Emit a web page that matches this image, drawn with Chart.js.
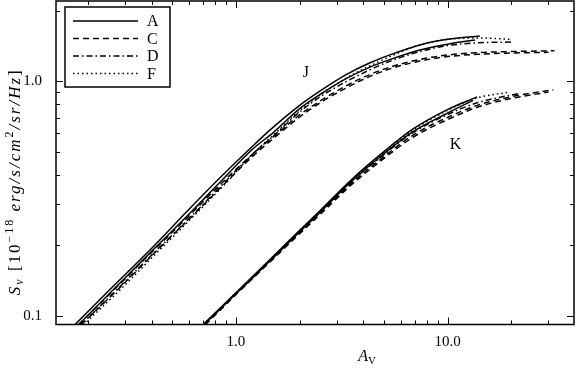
<!DOCTYPE html>
<html lang="en">
<head>
<meta charset="UTF-8">
<title>S_nu versus A_V</title>
<script src="https://cdn.jsdelivr.net/npm/chart.js"></script>
<style>
  html, body { margin: 0; padding: 0; background: white; }
  #wrap { width: 576px; height: 368px; }
</style>
</head>
<body>
<div id="wrap"><canvas id="chart"></canvas></div>
<script>
// J band curves (A_V, S_nu)
const jA1_av = [0.173, 0.25, 0.392, 0.6, 0.84, 1.2, 1.45, 2.0, 2.5, 3.3, 4.3, 5.5, 7.4, 10, 14.2];
const jA1_s  = [0.0917, 0.128, 0.191, 0.285, 0.388, 0.53, 0.621, 0.79, 0.91, 1.065, 1.20, 1.31, 1.43, 1.51, 1.56];
const jA2_av = [0.18, 0.26, 0.4, 0.62, 0.86, 1.2, 1.5, 2.0, 2.5, 3.3, 4.3, 5.5, 7.4, 10, 13.5];
const jA2_s  = [0.0917, 0.128, 0.189, 0.28, 0.38, 0.515, 0.605, 0.765, 0.88, 1.025, 1.15, 1.25, 1.36, 1.44, 1.50];
const jC1_av = [0.18, 0.26, 0.4, 0.62, 0.86, 1.2, 1.5, 2.0, 2.5, 3.3, 4.3, 5.35, 7.4, 10, 14, 20, 32];
const jC1_s  = [0.0917, 0.127, 0.187, 0.275, 0.37, 0.49, 0.58, 0.72, 0.825, 0.955, 1.07, 1.15, 1.24, 1.295, 1.325, 1.34, 1.35];
const jC2_av = [0.185, 0.27, 0.41, 0.63, 0.88, 1.2, 1.5, 2.0, 2.5, 3.3, 4.3, 5.5, 7.4, 10, 14, 20, 30];
const jC2_s  = [0.0917, 0.127, 0.185, 0.27, 0.365, 0.48, 0.57, 0.705, 0.81, 0.935, 1.05, 1.14, 1.22, 1.275, 1.305, 1.32, 1.33];
const jD_av  = [0.185, 0.27, 0.41, 0.63, 0.88, 1.2, 1.5, 2.0, 2.5, 3.3, 4.3, 5.5, 7.4, 10, 14, 20];
const jD_s   = [0.0917, 0.128, 0.186, 0.272, 0.37, 0.49, 0.585, 0.74, 0.86, 0.995, 1.12, 1.23, 1.34, 1.42, 1.46, 1.47];
const jF_av  = [0.19, 0.28, 0.42, 0.64, 0.9, 1.2, 1.5, 2.0, 2.5, 3.3, 4.3, 5.5, 7.4, 10, 14, 20];
const jF_s   = [0.0917, 0.128, 0.185, 0.27, 0.37, 0.49, 0.59, 0.75, 0.875, 1.03, 1.165, 1.29, 1.43, 1.51, 1.53, 1.51];

// K band curves (A_V, S_nu)
const kA1_av = [0.698, 1.165, 1.5, 2.006, 2.5, 3.46, 4.79, 6.87, 9.93, 13.8];
const kA1_s  = [0.0917, 0.1438, 0.1797, 0.2326, 0.2815, 0.3764, 0.486, 0.627, 0.756, 0.859];
const kA2_av = [0.705, 1.165, 1.5, 2.006, 2.5, 3.46, 4.79, 6.87, 9.93, 13.2];
const kA2_s  = [0.0917, 0.142, 0.177, 0.229, 0.277, 0.37, 0.476, 0.61, 0.73, 0.83];
const kC1_av = [0.71, 1.165, 1.5, 2.006, 2.5, 3.46, 4.79, 6.87, 9.93, 13.8, 20, 31.6];
const kC1_s  = [0.0917, 0.142, 0.177, 0.228, 0.275, 0.364, 0.463, 0.59, 0.70, 0.79, 0.86, 0.92];
const kC2_av = [0.715, 1.165, 1.5, 2.006, 2.5, 3.46, 4.79, 6.87, 9.93, 13.8, 20, 30];
const kC2_s  = [0.0917, 0.141, 0.175, 0.225, 0.271, 0.358, 0.455, 0.578, 0.685, 0.775, 0.845, 0.90];
const kD_av  = [0.70, 1.165, 1.5, 2.006, 2.5, 3.46, 4.79, 6.87, 9.93, 13.8, 22];
const kD_s   = [0.0917, 0.143, 0.178, 0.23, 0.278, 0.37, 0.472, 0.605, 0.72, 0.81, 0.89];
const kF_av  = [0.705, 1.165, 1.5, 2.006, 2.5, 3.46, 4.79, 6.87, 9.93, 13.8, 19.7];
const kF_s   = [0.0917, 0.1425, 0.178, 0.23, 0.279, 0.372, 0.478, 0.62, 0.75, 0.85, 0.90];

const legendKeys = ['A', 'C', 'D', 'F'];
const xMajor = [1, 10];
const xMinor = [0.2, 0.3, 0.4, 0.5, 0.6, 0.7, 0.8, 0.9, 2, 3, 4, 5, 6, 7, 8, 9, 20, 30];
const yMajor = [0.1, 1];
const yMinor = [0.2, 0.3, 0.4, 0.5, 0.6, 0.7, 0.8, 0.9, 2];
const bandLabels = [
    { text: 'J', av: 2.14, s: 1.09 },
    { text: 'K', av: 10.9, s: 0.536 }
];

const dashes = { A: [], C: [6, 4], D: [6, 3, 1.5, 3], F: [1.5, 3] };
const serif = '"Liberation Serif", "DejaVu Serif", serif';

function curve(av, s, key) {
    return {
        label: key,
        data: av.map((x, i) => ({ x: x, y: s[i] })),
        showLine: true,
        borderColor: 'black',
        borderWidth: 1.5,
        borderDash: dashes[key],
        pointRadius: 0,
        fill: false,
        cubicInterpolationMode: 'monotone'
    };
}

const datasets = [
    curve(jA1_av, jA1_s, 'A'), curve(jA2_av, jA2_s, 'A'),
    curve(jC1_av, jC1_s, 'C'), curve(jC2_av, jC2_s, 'C'),
    curve(jD_av, jD_s, 'D'), curve(jF_av, jF_s, 'F'),
    curve(kA1_av, kA1_s, 'A'), curve(kA2_av, kA2_s, 'A'),
    curve(kC1_av, kC1_s, 'C'), curve(kC2_av, kC2_s, 'C'),
    curve(kD_av, kD_s, 'D'), curve(kF_av, kF_s, 'F')
];

// draws a run of text pieces [text, font, baseline shift]
function drawRuns(ctx, runs, x, y) {
    let w = 0;
    runs.forEach(r => { ctx.font = r[1]; w += ctx.measureText(r[0]).width; });
    let cx = x - w / 2;
    runs.forEach(r => {
        ctx.font = r[1];
        ctx.fillText(r[0], cx, y + r[2]);
        cx += ctx.measureText(r[0]).width;
    });
}

const framePlugin = {
    id: 'frame',
    afterDraw(chart) {
        const ctx = chart.ctx;
        const a = chart.chartArea;
        const xs = chart.scales.x, ys = chart.scales.y;
        ctx.save();
        ctx.strokeStyle = 'black';
        ctx.fillStyle = 'black';
        ctx.lineWidth = 1.5;
        ctx.strokeRect(a.left, a.top, a.right - a.left, a.bottom - a.top);

        // inward ticks on all four sides
        ctx.lineWidth = 1;
        ctx.beginPath();
        const xt = xMajor.map(v => [v, 7]).concat(xMinor.map(v => [v, 4]));
        xt.forEach(t => {
            const px = Math.round(xs.getPixelForValue(t[0])) + 0.5;
            ctx.moveTo(px, a.bottom); ctx.lineTo(px, a.bottom - t[1]);
            ctx.moveTo(px, a.top); ctx.lineTo(px, a.top + t[1]);
        });
        const yt = yMajor.map(v => [v, 7]).concat(yMinor.map(v => [v, 4]));
        yt.forEach(t => {
            const py = Math.round(ys.getPixelForValue(t[0])) + 0.5;
            ctx.moveTo(a.left, py); ctx.lineTo(a.left + t[1], py);
            ctx.moveTo(a.right, py); ctx.lineTo(a.right - t[1], py);
        });
        ctx.stroke();

        // band labels
        ctx.font = '16px ' + serif;
        ctx.textAlign = 'center';
        ctx.textBaseline = 'middle';
        bandLabels.forEach(b => {
            ctx.fillText(b.text, xs.getPixelForValue(b.av), ys.getPixelForValue(b.s));
        });

        // legend
        const lx = a.left + 9, ly = a.top + 6, lw = 105, lh = 80;
        ctx.fillStyle = 'white';
        ctx.fillRect(lx, ly, lw, lh);
        ctx.lineWidth = 1.5;
        ctx.strokeRect(lx, ly, lw, lh);
        ctx.fillStyle = 'black';
        ctx.textAlign = 'left';
        legendKeys.forEach((k, i) => {
            const yy = ly + 14 + i * 17.5;
            ctx.beginPath();
            ctx.setLineDash(dashes[k]);
            ctx.lineWidth = 1.5;
            ctx.moveTo(lx + 8, yy); ctx.lineTo(lx + 73, yy);
            ctx.stroke();
            ctx.setLineDash([]);
            ctx.font = '16px ' + serif;
            ctx.fillText(k, lx + 82, yy + 1);
        });

        // axis titles
        ctx.textAlign = 'left';
        ctx.textBaseline = 'alphabetic';
        drawRuns(ctx, [['A', 'italic 16px ' + serif, 0], ['V', '11px ' + serif, 3]], (a.left + a.right) / 2 + 52, 361);

        const it = 'italic 17px ' + serif, rm = '17px ' + serif, sub = '12px ' + serif, isub = 'italic 12px ' + serif;
        ctx.translate(15, (a.top + a.bottom) / 2 + 19);
        ctx.rotate(-Math.PI / 2);
        ctx.letterSpacing = '2px';
        drawRuns(ctx, [
            ['S', it, 0], ['\u03bd', isub, 3], [' [10', rm, 0], ['\u221218', sub, -7],
            [' erg/s/cm', it, 0], ['2', sub, -7], ['/sr/Hz', it, 0], [']', rm, 0]
        ], 0, 5);
        ctx.restore();
    }
};

new Chart(document.getElementById('chart'), {
    type: 'scatter',
    data: { datasets: datasets },
    options: {
        responsive: true,
        maintainAspectRatio: false,
        animation: false,
        layout: { padding: { top: 1, right: 2, left: 0, bottom: 0 } },
        plugins: { legend: { display: false }, tooltip: { enabled: false } },
        scales: {
            x: {
                type: 'logarithmic',
                min: 0.141, max: 39.6,
                grid: { display: false, drawTicks: false },
                border: { display: false },
                afterBuildTicks: s => { s.ticks = xMajor.map(v => ({ value: v })); },
                afterFit: s => { s.height = 43.5; s.paddingLeft = 0; s.paddingRight = 0; },
                ticks: {
                    padding: 9, color: 'black', maxRotation: 0,
                    font: { family: serif, size: 15 },
                    callback: v => Number(v).toFixed(1)
                }
            },
            y: {
                type: 'logarithmic',
                min: 0.092, max: 2.2,
                grid: { display: false, drawTicks: false },
                border: { display: false },
                afterBuildTicks: s => { s.ticks = yMajor.map(v => ({ value: v })); },
                afterFit: s => { s.width = 56; s.paddingTop = 0; s.paddingBottom = 0; },
                ticks: {
                    padding: 14, color: 'black',
                    font: { family: serif, size: 15 },
                    callback: v => Number(v).toFixed(1)
                }
            }
        }
    },
    plugins: [framePlugin]
});
</script>
</body>
</html>
